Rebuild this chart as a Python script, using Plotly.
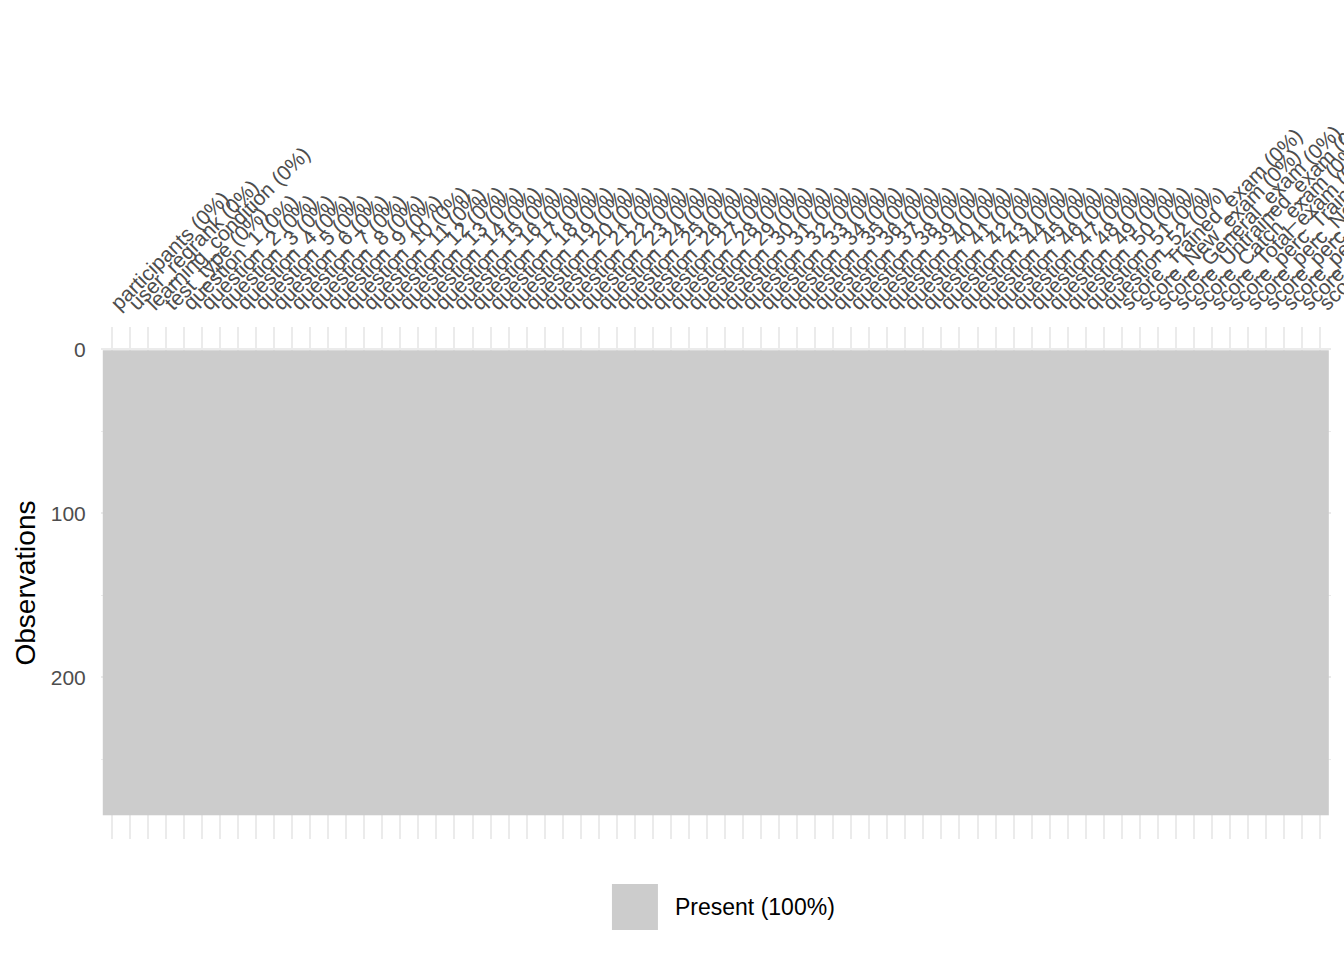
import plotly.graph_objects as go

# ---- data ----
base_columns = ["participants", "user_regrank", "learning_condition", "test_type"]
question_columns = [f"question_{i}" for i in range(1, 53)]
score_columns = [
    "score_Trained_exam", "score_New_exam", "score_General_exam",
    "score_Untrained_exam", "score_Catch_exam", "score_Total_exam",
    "score_perc_Trained_exam", "score_perc_New_exam", "score_perc_General_exam",
    "score_perc_Untrained_exam", "score_perc_Catch_exam", "score_perc_Total_exam",
]
columns = base_columns + question_columns + score_columns
missing_pct = [0] * len(columns)          # percent missing per column
n_obs = 284                               # number of observations (rows)
present_pct = 100
y_ticks = [0, 100, 200]

labels = [f"{c} ({p}%)" for c, p in zip(columns, missing_pct)]
rows = list(range(1, n_obs + 1))
z = [[1 for _ in columns] for _ in rows]

FONT = "Liberation Sans, Arial, sans-serif"
GRID = "#ebebeb"
TILE = "#cccccc"

fig = go.Figure()
fig.add_trace(go.Heatmap(
    x=labels, y=rows, z=z,
    colorscale=[[0, TILE], [1, TILE]],
    showscale=False, hoverinfo="skip", xgap=0, ygap=0,
))

pad = n_obs * 0.05
fig.update_layout(
    width=1344, height=960,
    margin=dict(l=101, r=13, t=327, b=121),
    paper_bgcolor="white", plot_bgcolor="white",
    font=dict(family=FONT),
    showlegend=False,
    xaxis=dict(
        side="top", type="category", automargin=False,
        tickmode="array", tickvals=labels, ticktext=labels,
        tickangle=-45, tickfont=dict(size=21, color="#4d4d4d"),
        ticks="outside", ticklen=3, tickcolor="rgba(0,0,0,0)",
        showgrid=True, gridcolor=GRID, gridwidth=1.8,
        zeroline=False, showline=False,
        range=[-0.6, len(columns) - 0.4],
    ),
    yaxis=dict(
        automargin=False,
        range=[n_obs + 0.5 + pad, 0.5 - pad],
        tickvals=y_ticks, tickfont=dict(size=21, color="#4d4d4d"),
        ticks="outside", ticklen=10, tickcolor="rgba(0,0,0,0)",
        showgrid=True, gridcolor=GRID, gridwidth=1.8,
        minor=dict(dtick=50, tick0=0, showgrid=True, gridcolor=GRID, gridwidth=0.9),
        zeroline=False, showline=False,
        title=dict(text="Observations", font=dict(size=28, color="black"), standoff=6),
    ),
)

# legend (drawn manually, in paper coordinates)
fig.add_shape(type="rect", xref="paper", yref="paper",
              x0=0.4154, x1=0.4528, y0=-0.0879, y1=-0.1777,
              fillcolor=TILE, line=dict(width=0))
fig.add_annotation(xref="paper", yref="paper", x=0.465, y=-0.1328,
                   xanchor="left", yanchor="middle", showarrow=False,
                   text=f"Present ({present_pct}%)",
                   font=dict(size=23, color="black", family=FONT))

fig.write_html("out.html")
